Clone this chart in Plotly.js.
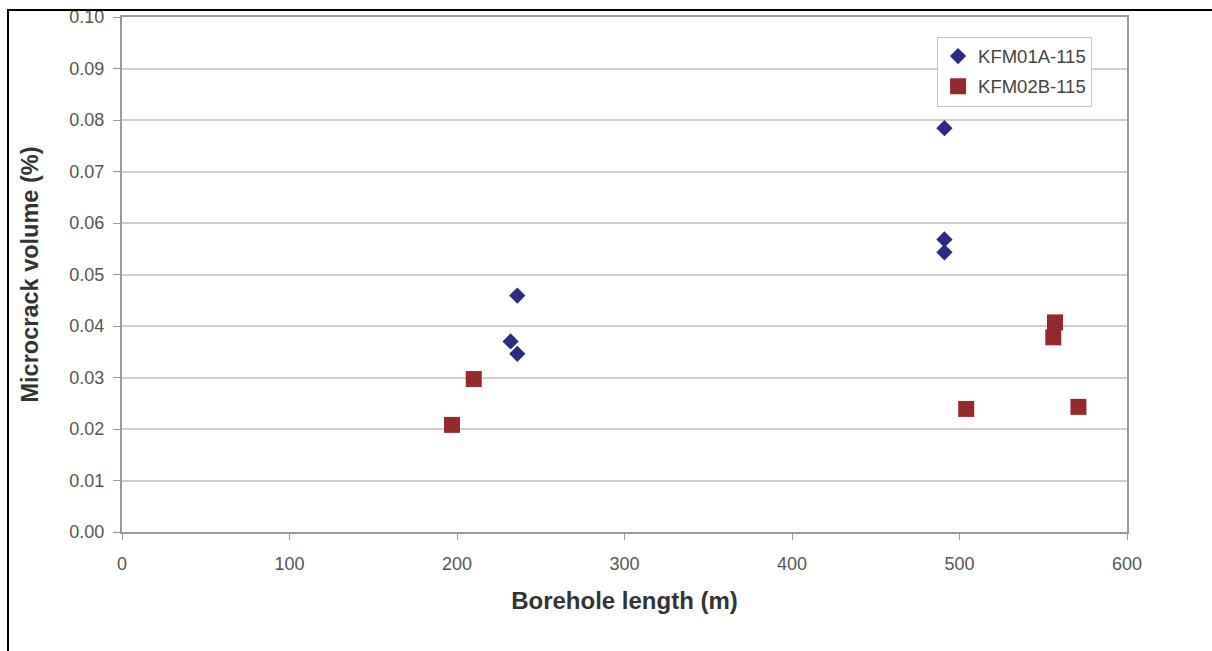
<!DOCTYPE html>
<html>
<head>
<meta charset="utf-8">
<script src="https://cdn.plot.ly/plotly-3.0.1.min.js"></script>
<style>
  html, body { margin: 0; padding: 0; background: #fff; }
  #chart { width: 1212px; height: 651px; }
  .frame-top { position: absolute; left: 7px; top: 9px; width: 1205px; height: 2px; background: #000; }
  .frame-left { position: absolute; left: 7px; top: 9px; width: 2px; height: 642px; background: #000; }
</style>
</head>
<body>
<div id="chart"></div>
<div class="frame-top"></div>
<div class="frame-left"></div>
<script>
// Data
const seriesNames = ["KFM01A-115", "KFM02B-115"];
const kfm01aLength = [491, 491, 491, 236, 232, 236];
const kfm01aVolume = [0.0784, 0.0568, 0.0543, 0.0459, 0.0370, 0.0346];
const kfm02bLength = [197, 210, 504, 557, 556, 571];
const kfm02bVolume = [0.0208, 0.0297, 0.0239, 0.0407, 0.0378, 0.0243];
const xTicks = [0, 100, 200, 300, 400, 500, 600];
const yTicks = [0, 0.01, 0.02, 0.03, 0.04, 0.05, 0.06, 0.07, 0.08, 0.09, 0.10];

const traces = [
  {
    x: kfm01aLength, y: kfm01aVolume, name: seriesNames[0], legendgroup: "a",
    type: "scatter", mode: "markers",
    marker: { symbol: "diamond", size: 12.5, color: "#2b2b85" }
  },
  {
    x: kfm02bLength, y: kfm02bVolume, name: seriesNames[1], legendgroup: "b",
    type: "scatter", mode: "markers",
    marker: { symbol: "square", size: 16, color: "#952a2e" }
  }
];

const fam = "Liberation Sans, Arial, sans-serif";
const layout = {
  width: 1212, height: 651,
  margin: { l: 122, r: 85, t: 17, b: 119 },
  paper_bgcolor: "#fff", plot_bgcolor: "#fff",
  font: { family: fam, color: "#555", size: 17 },
  showlegend: true,
  legend: {
    x: 0.811, y: 0.962, xanchor: "left", yanchor: "top",
    bgcolor: "#fff", bordercolor: "#c4c4c4", borderwidth: 1,
    font: { size: 18.5, color: "#444" },
    tracegroupgap: 3
  },
  xaxis: {
    range: [0, 600], tickvals: xTicks, ticktext: xTicks.map(String),
    showgrid: false, zeroline: false,
    showline: true, linecolor: "#999", linewidth: 2, mirror: true,
    ticks: "outside", ticklen: 6, tickcolor: "#999", ticklabelstandoff: 8,
    tickfont: { size: 18, color: "#555" },
    title: { text: "Borehole length (m)", font: { size: 24, color: "#333", family: fam, weight: "bold" }, standoff: 20 }
  },
  yaxis: {
    range: [0, 0.10], tickvals: yTicks, ticktext: yTicks.map(v => v.toFixed(2)),
    showgrid: true, gridcolor: "#cfcfcf", gridwidth: 2, zeroline: false,
    showline: true, linecolor: "#999", linewidth: 2, mirror: true,
    ticks: "outside", ticklen: 7, tickcolor: "#999", ticklabelstandoff: 5,
    tickfont: { size: 18, color: "#555" },
    title: { text: "Microcrack volume (%)", font: { size: 23.5, color: "#333", family: fam, weight: "bold" }, standoff: 24 }
  }
};

Plotly.newPlot("chart", traces, layout, { displayModeBar: false, staticPlot: true });
</script>
</body>
</html>
